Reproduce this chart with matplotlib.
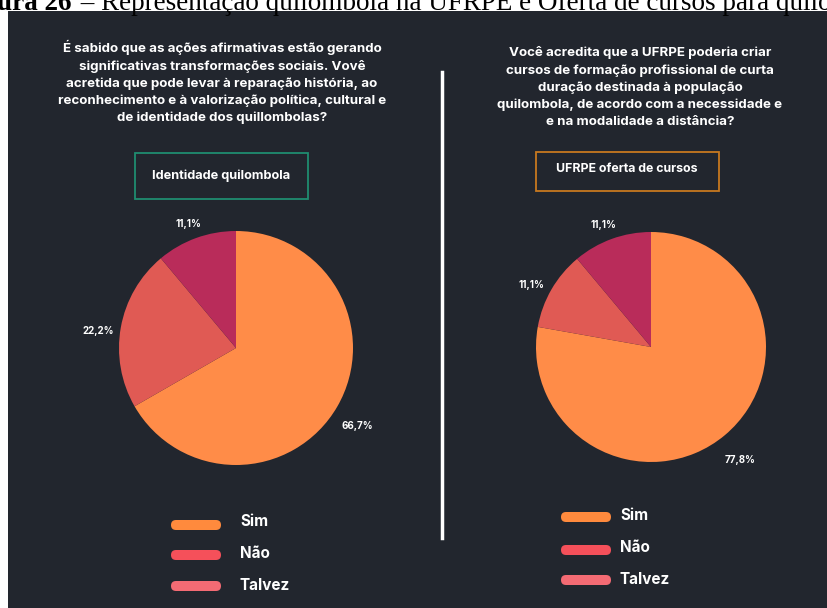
import matplotlib
matplotlib.use("Agg")
import matplotlib.pyplot as plt
from matplotlib.patches import Rectangle, FancyBboxPatch

# data
categories = ["Sim", "Não", "Talvez"]
identidade = [66.7, 22.2, 11.1]
oferta = [77.8, 11.1, 11.1]

q_left = ("É sabido que as ações afirmativas estão gerando\n"
          "significativas transformações sociais. Vovê\n"
          "acretida que pode levar à reparação história, ao\n"
          "reconhecimento e à valorização política, cultural e\n"
          "de identidade dos quillombolas?")
q_right = ("Você acredita que a UFRPE poderia criar\n"
           "cursos de formação profissional de curta\n"
           "duração destinada à população\n"
           "quilombola, de acordo com a necessidade e\n"
           "e na modalidade a distância?")
box_left = "Identidade quilombola"
box_right = "UFRPE oferta de cursos"

slice_colors = ["#ff8c48", "#e05a54", "#b92c5a"]
legend_colors = ["#ff8a3d", "#f5505a", "#f46b74"]
bg = "#22262e"
W, H = 827, 608
font = ["Inter", "DejaVu Sans"]

fig = plt.figure(figsize=(W / 100, H / 100), dpi=100)
fig.patch.set_facecolor("white")

deco = fig.add_axes([0, 0, 1, 1])
deco.set_xlim(0, W)
deco.set_ylim(H, 0)
deco.axis("off")

# caption strip (cut off at top)
cap1 = deco.text(-3, 10, "ura 26", fontsize=19.5, fontweight="bold",
                 family="Liberation Serif", va="baseline", ha="left")
fig.canvas.draw()
bb = cap1.get_window_extent()
deco.text(bb.x1 + 2, 10, " – Representação quilombola na UFRPE e Oferta de cursos para quilombolas",
          fontsize=19.5, family="Liberation Serif", va="baseline", ha="left")

deco.add_patch(Rectangle((8, 11), W - 8, H - 11, facecolor=bg, edgecolor="none", zorder=2))

# questions
deco.text(222, 82, q_left, ha="center", va="center", color="white", fontsize=9.6,
          fontweight="bold", family=font, linespacing=1.5, zorder=3)
deco.text(640, 87, q_right, ha="center", va="center", color="white", fontsize=9.6,
          fontweight="bold", family=font, linespacing=1.5, zorder=3)

# boxed titles
deco.add_patch(Rectangle((135, 153), 173, 46, facecolor="none", edgecolor="#1f8c70", lw=1.3, zorder=3))
deco.text(221, 176, box_left, ha="center", va="center", color="white", fontsize=9.2,
          fontweight="bold", family=font, zorder=3)
deco.add_patch(Rectangle((536, 152), 183, 39, facecolor="none", edgecolor="#c8791f", lw=1.3, zorder=3))
deco.text(627, 169, box_right, ha="center", va="center", color="white", fontsize=8.9,
          fontweight="bold", family=font, zorder=3)

# divider
deco.plot([442, 442], [72, 538], color="white", lw=2.5, zorder=3)

# legends
for x_pill, x_txt, ys, ys_txt in [(171, 240, [525, 555, 586], [522, 554, 585]),
                                   (561, 620, [517, 550, 580], [515, 547, 579])]:
    for lab, col, y, yt in zip(categories, legend_colors, ys, ys_txt):
        deco.add_patch(FancyBboxPatch((x_pill, y - 5), 50, 10,
                                      boxstyle="round,pad=0,rounding_size=5",
                                      facecolor=col, edgecolor="none", zorder=3))
        deco.text(x_txt, yt, lab, ha="left", va="center", color="white", fontsize=11,
                  fontweight="bold", family=font, zorder=3)


def pct_fmt(p):
    return f"{p:.1f}%".replace(".", ",")


def draw_pie(values, cx, cy, r):
    size = 2.5 * r
    ax = fig.add_axes([(cx - size / 2) / W, (H - cy - size / 2) / H, size / W, size / H])
    ax.set_zorder(5)
    wedges, texts, autotexts = ax.pie(values, colors=slice_colors, startangle=90,
                                      counterclock=False, autopct=pct_fmt,
                                      pctdistance=1.2,
                                      wedgeprops=dict(edgecolor="none"),
                                      textprops=dict(color="white", fontsize=7,
                                                     fontweight="bold", family=font))
    for t in autotexts:
        x, y = t.get_position()
        t.set_position((x, y - 7.5 / r))
    ax.set_xlim(-1.25, 1.25)
    ax.set_ylim(-1.25, 1.25)
    ax.axis("off")


draw_pie(identidade, 236, 348, 117)
draw_pie(oferta, 651, 347, 115)

fig.savefig("out.png", dpi=100, facecolor=fig.get_facecolor())
